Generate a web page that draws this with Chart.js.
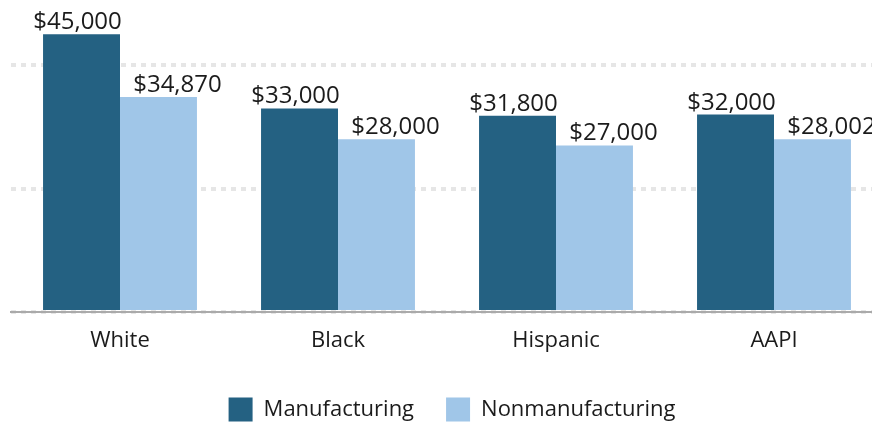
<!DOCTYPE html>
<html>
<head>
<meta charset="utf-8">
<script src="https://cdn.jsdelivr.net/npm/chart.js@4/dist/chart.umd.min.js"></script>
<style>
  html, body { margin: 0; padding: 0; background: #fff; overflow: hidden; }
  #wrap { width: 900px; height: 425px; }
</style>
</head>
<body>
<div id="wrap"><canvas id="c" width="900" height="425"></canvas></div>
<script>
const categories = ['White', 'Black', 'Hispanic', 'AAPI'];
const manufacturing = [45000, 33000, 31800, 32000];
const nonmanufacturing = [34870, 28000, 27000, 28002];
const gridTicks = [0, 20000, 40000];

const FONT = '"Open Sans", Lato, sans-serif';
const TEXT = '#1b1b1b';

const money = v => '$' + v.toLocaleString('en-US');

// Value labels written above each bar
const valueLabels = {
  id: 'valueLabels',
  afterDatasetsDraw(chart) {
    const ctx = chart.ctx;
    ctx.save();
    ctx.font = '24px ' + FONT;
    ctx.fillStyle = TEXT;
    ctx.textAlign = 'center';
    ctx.textBaseline = 'alphabetic';
    chart.data.datasets.forEach((ds, i) => {
      const meta = chart.getDatasetMeta(i);
      const shift = ds.labelShift || 0;
      meta.data.forEach((bar, j) => {
        ctx.fillText(money(ds.data[j]), bar.x + shift, bar.y - 5);
      });
    });
    ctx.restore();
  }
};

new Chart(document.getElementById('c'), {
  type: 'bar',
  data: {
    labels: categories,
    datasets: [
      { label: 'Manufacturing', data: manufacturing, backgroundColor: '#246182', labelShift: -4 },
      { label: 'Nonmanufacturing', data: nonmanufacturing, backgroundColor: '#a0c6e8', labelShift: 19 }
    ]
  },
  options: {
    responsive: false,
    animation: false,
    devicePixelRatio: 1,
    layout: { padding: { left: 11, right: 7, top: 3.5, bottom: -6.5 } },
    datasets: { bar: { categoryPercentage: 0.706, barPercentage: 1 } },
    plugins: {
      tooltip: { enabled: false },
      legend: {
        position: 'bottom',
        labels: {
          font: { family: FONT, size: 22 },
          color: TEXT,
          boxWidth: 24,
          boxHeight: 24,
          padding: 32,
          useBorderRadius: false
        }
      }
    },
    scales: {
      x: {
        afterFit: s => { s.height -= 3; },
        grid: { display: false, drawTicks: false },
        border: { display: true, color: '#aaaaaa', width: 2 },
        ticks: { font: { family: FONT, size: 22 }, color: TEXT, padding: 15 }
      },
      y: {
        position: 'right',
        min: 0,
        max: 50000,
        afterBuildTicks: s => { s.ticks = gridTicks.map(v => ({ value: v })); },
        afterFit: s => { s.width = 10; },
        ticks: { display: false },
        border: { display: false, dash: [5, 5] },
        grid: { color: '#e6e6e6', lineWidth: 4, drawTicks: false }
      }
    }
  },
  plugins: [valueLabels]
});
</script>
</body>
</html>
